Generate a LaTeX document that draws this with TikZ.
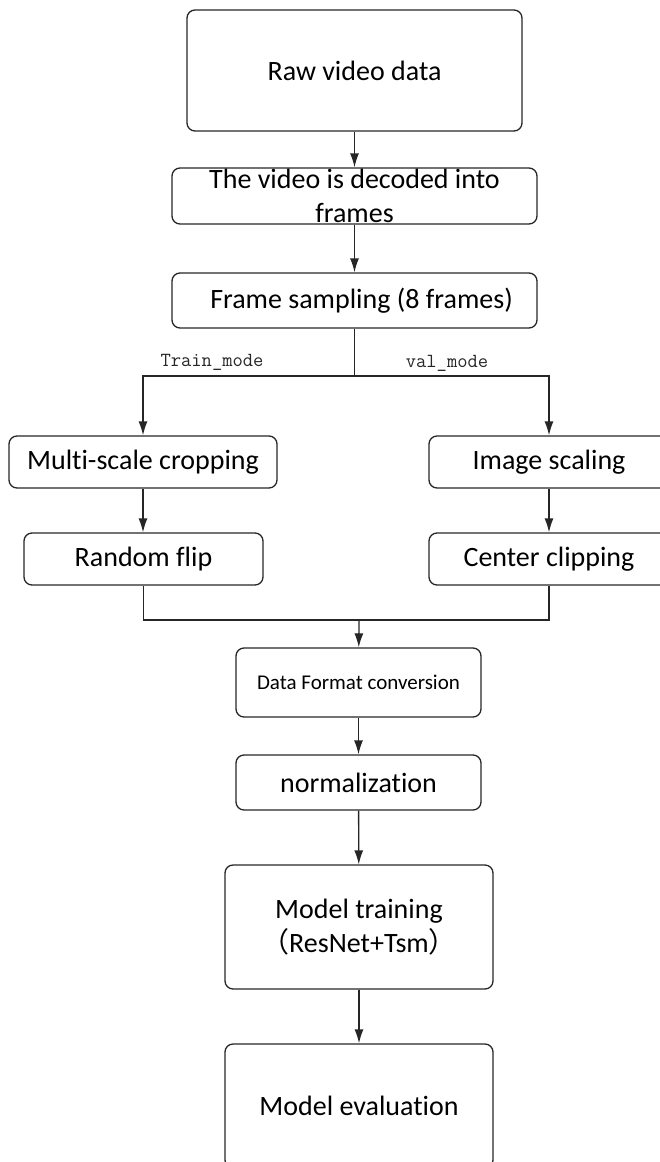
\documentclass[tikz,border=0pt]{standalone}
\usepackage{fontspec}
\setmainfont{Carlito}[Ligatures=NoCommon]
\newfontfamily\cjk{Noto Sans CJK SC}
\usetikzlibrary{arrows.meta}

\begin{document}
\begin{tikzpicture}[x=1pt,y=-1pt,
  box/.style={draw=black!85, line width=1.3pt, rounded corners=8pt, inner sep=0pt,
              align=center, font=\fontsize{28}{33.6}\selectfont},
  txt/.style={inner sep=0pt, align=center, font=\fontsize{28}{33.6}\selectfont},
  link/.style={draw=black!85, line width=1.3pt},
  arr/.style={link, -{Latex[length=14pt,width=9pt]}},
  mode/.style={inner sep=0pt, text=black!85, font=\ttfamily\fontsize{20}{24}\selectfont}]
\useasboundingbox (0,0) rectangle (660,1162);
\clip (0,0) rectangle (660,1162);

% main column
\node[box, minimum width=335pt, minimum height=121pt] (raw) at (354.5,70.5) {Raw video data};
\node[box, minimum width=365pt, minimum height=56pt] (dec) at (354.5,196) {};
\node[txt] (dectxt) at (dec.center) {The video is decoded into\\frames};
\node[box, minimum width=365pt, minimum height=55pt] (samp) at (354.5,300.5) {\hspace*{14pt}Frame sampling (8 frames)};

% training / validation branches
\node[box, minimum width=268pt, minimum height=52pt] (msc) at (143,462) {Multi-scale cropping};
\node[box, minimum width=239pt, minimum height=52pt] (flip) at (143.5,559) {Random flip};
\node[box, minimum width=240pt, minimum height=52pt] (img) at (549,462) {Image scaling};
\node[box, minimum width=240pt, minimum height=52pt] (cen) at (549,559) {Center clipping};

% after the merge
\node[box, minimum width=245pt, minimum height=69pt, font=\fontsize{21}{25}\selectfont] (fmt) at (358.5,682.5) {Data Format conversion};
\node[box, minimum width=245pt, minimum height=55pt] (norm) at (358.5,782.5) {normalization};
\node[box, minimum width=268pt, minimum height=124pt] (train) at (359,927) {Model training\\{\cjk （}ResNet+Tsm{\cjk ）}};
\node[box, minimum width=268pt, minimum height=124pt] (eval) at (359,1106) {Model evaluation};

% branch labels
\node[mode] (trl) at (212,362) {Train\_mode};
\node[mode] (vl) at (447,363) {val\_mode};

\coordinate (split) at (354.5,376);
\coordinate (merge) at (359,620);

\draw[arr] (raw) -- (dec);
\draw[arr] (dec) -- (samp);
\draw[link] (samp.south) -- (split);
\draw[arr] (split) -| (msc.north);
\draw[arr] (split) -| (img.north);
\draw[arr] (msc.south) -- (msc.south |- flip.north);
\draw[arr] (img) -- (cen);
\draw[link] (flip.south) |- (merge) -| (cen.south);
\draw[arr] (merge) -- (fmt);
\draw[arr] (fmt) -- (norm);
\draw[arr] (norm) -- (train);
\draw[arr] (train) -- (eval);
\end{tikzpicture}
\end{document}
